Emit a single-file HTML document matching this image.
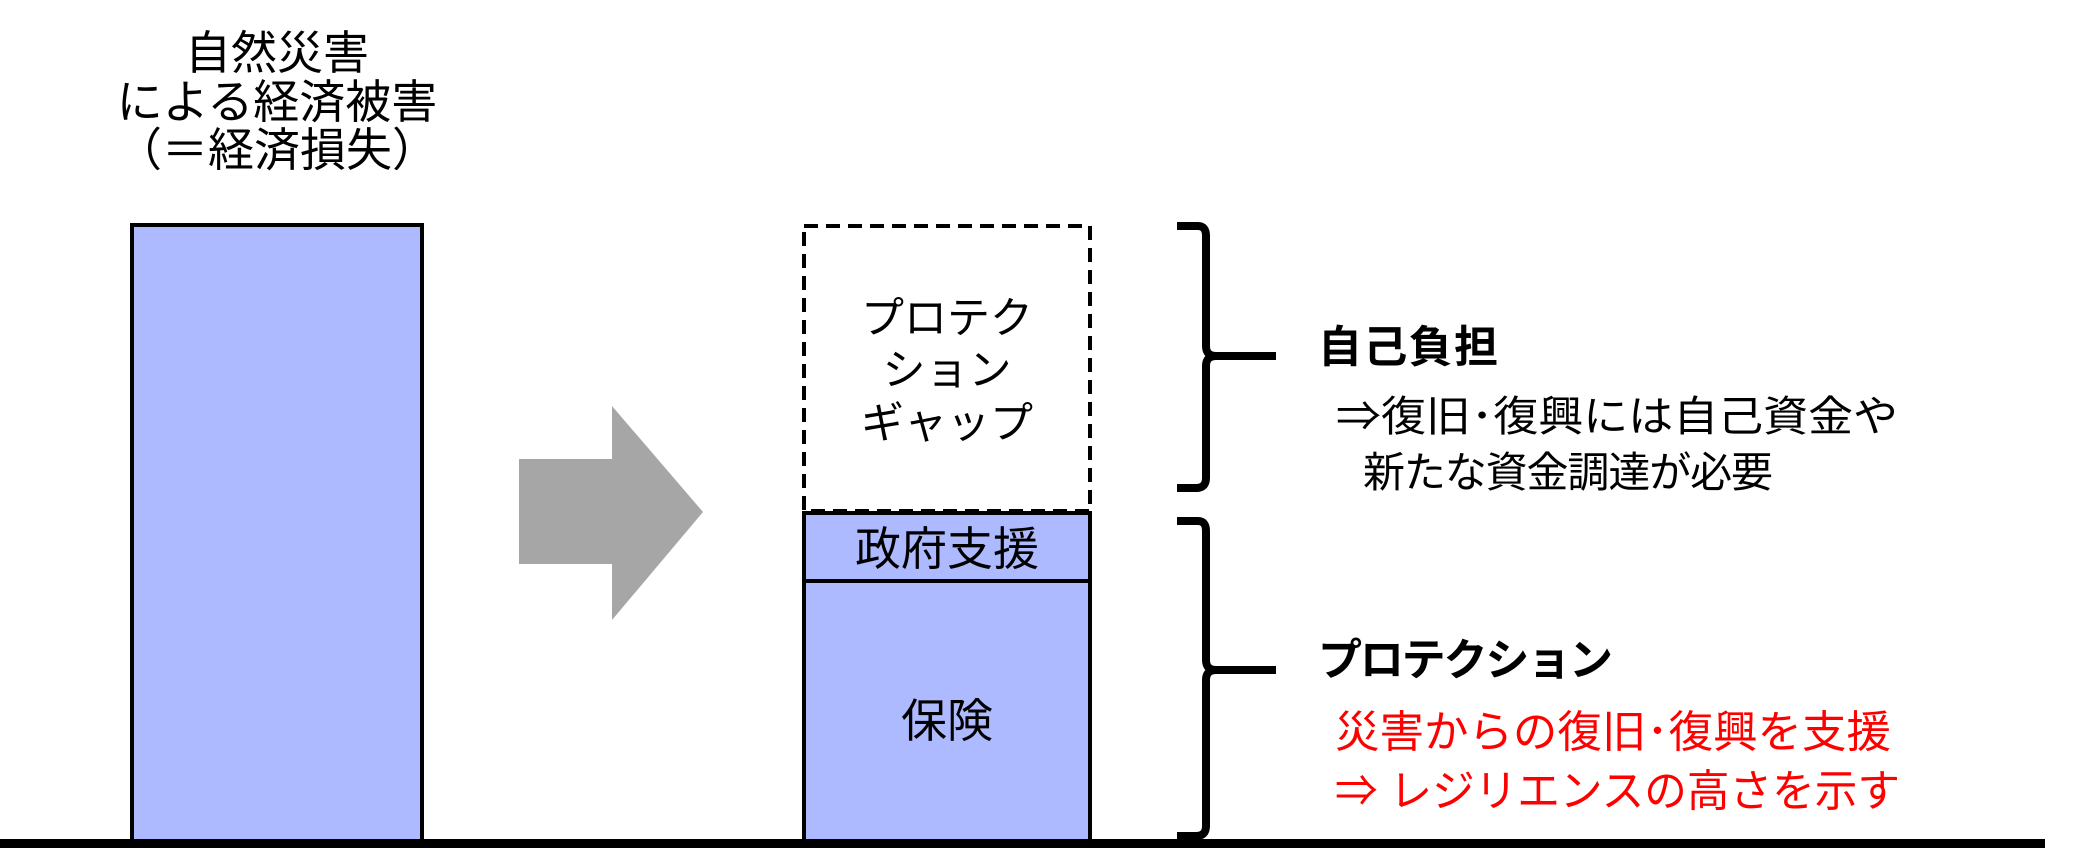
<!DOCTYPE html>
<html><head><meta charset="utf-8"><style>
html,body{margin:0;padding:0;background:#fff;}
svg{display:block;}
text{font-family:"Liberation Sans","Noto Sans CJK JP",sans-serif;}
</style></head><body>
<svg width="2081" height="848" viewBox="0 0 2081 848" xmlns="http://www.w3.org/2000/svg">
<g font-size="46" fill="#000" text-anchor="middle">
<text x="277" y="69">自然災害</text>
<text x="277" y="118">による経済被害</text>
<text x="277" y="166">（＝経済損失）</text>
</g>
<rect x="132" y="225" width="290" height="620" fill="#adbaff" stroke="#000" stroke-width="4"/>
<polygon points="519,459 612,459 612,406 703,512 612,620 612,564 519,564" fill="#a6a6a6"/>
<rect x="804" y="226" width="286" height="285" fill="#fff" stroke="#000" stroke-width="4" stroke-dasharray="14,8"/>
<rect x="804" y="513" width="286" height="68" fill="#adbaff" stroke="#000" stroke-width="4"/>
<rect x="804" y="581" width="286" height="264" fill="#adbaff" stroke="#000" stroke-width="4"/>
<g font-size="43" text-anchor="middle">
<text x="947" y="333">プロテク</text>
<text x="947" y="385">ション</text>
<text x="947" y="438">ギャップ</text>
</g>
<g font-size="46" text-anchor="middle">
<text x="947" y="565">政府支援</text>
<text x="947" y="737">保険</text>
</g>
<g fill="none" stroke="#000" stroke-width="8">
<path d="M1177,226 L1198,226 Q1206,226 1206,236 L1206,346 Q1206,356 1216,356 L1276,356 M1216,356 Q1206,356 1206,366 L1206,478 Q1206,488 1196,488 L1177,488"/>
<path d="M1177,521 L1198,521 Q1206,521 1206,531 L1206,660 Q1206,670 1216,670 L1276,670 M1216,670 Q1206,670 1206,680 L1206,826 Q1206,836 1196,836 L1177,836"/>
</g>
<text x="1318" y="362" font-size="44" font-weight="bold" textLength="180">自己負担</text>
<text x="1336" y="431" font-size="42" textLength="562" lengthAdjust="spacingAndGlyphs">⇒復旧･復興には自己資金や</text>
<text x="1363" y="487" font-size="42" textLength="410">新たな資金調達が必要</text>
<text x="1318" y="675" font-size="44" font-weight="bold" textLength="295">プロテクション</text>
<g fill="#ff0000" font-size="44">
<text x="1335" y="747" textLength="556" lengthAdjust="spacingAndGlyphs">災害からの復旧･復興を支援</text>
<text x="1335" y="806" textLength="565" lengthAdjust="spacingAndGlyphs">⇒ レジリエンスの高さを示す</text>
</g>
<rect x="0" y="839" width="2045" height="9" fill="#000"/>
</svg>
</body></html>
